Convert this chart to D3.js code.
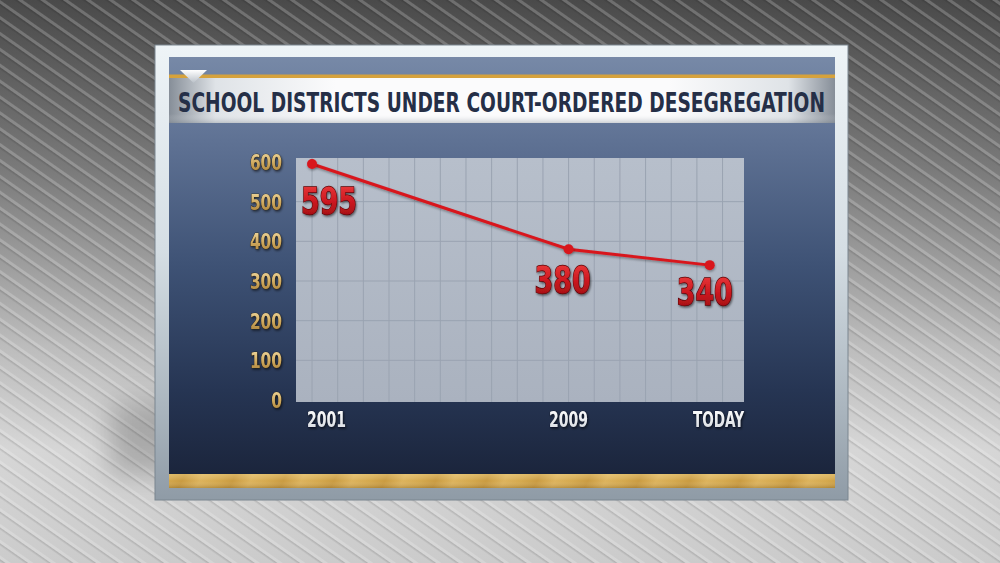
<!DOCTYPE html>
<html><head><meta charset="utf-8">
<script src="https://cdn.jsdelivr.net/npm/d3@7"></script>
<style>html,body{margin:0;padding:0;overflow:hidden;background:#888}</style>
</head><body>
<script>
// ---------- data ----------
const title = "SCHOOL DISTRICTS UNDER COURT-ORDERED DESEGREGATION";
const categories = ["2001", "2009", "TODAY"];
const yearPositions = [2001, 2009, 2013.4]; // "TODAY" placed on the timeline (estimated)
const values = [595, 380, 340];
const yTicks = [0, 100, 200, 300, 400, 500, 600];
const yGridValues = [100, 200, 300, 400, 500];

// ---------- layout ----------
const W = 1000, H = 563;
const plot = {left: 296, right: 744, top: 158, bottom: 402};
const labelDx = [17, -6, -5], labelDy = [50, 44, 40];
const FONT = "'Liberation Sans Narrow','DejaVu Sans Condensed','Liberation Sans',Arial,sans-serif";

const svg = d3.select("body").append("svg").attr("width", W).attr("height", H);
const defs = svg.append("defs");

function linGrad(id, stops, x2 = 0, y2 = 1) {
  const g = defs.append("linearGradient").attr("id", id)
    .attr("x1", 0).attr("y1", 0).attr("x2", x2).attr("y2", y2);
  stops.forEach(([o, c]) => g.append("stop").attr("offset", o).attr("stop-color", c));
  return g;
}
linGrad("bgGrad", [[0, "#4a4a4a"], [0.3, "#7a7a7a"], [0.62, "#bdbdbd"], [0.8, "#d6d6d6"], [1, "#cbcbcb"]]);
linGrad("frameGrad", [[0, "#eef4f7"], [0.45, "#d5dee4"], [0.8, "#aab5be"], [1, "#8f9ba6"]]);
linGrad("panelGrad", [[0, "#7789a7"], [0.2, "#5f7294"], [0.5, "#3e5275"], [0.8, "#263553"], [1, "#1b253c"]]);
linGrad("bandGrad", [[0, "#868e98"], [0.07, "#dfe3e7"], [0.25, "#fbfbfc"], [0.75, "#fbfbfc"], [0.93, "#dfe3e7"], [1, "#868e98"]], 1, 0);
linGrad("bandV", [[0, "rgba(255,255,255,0)"], [0.8, "rgba(255,255,255,0)"], [1, "rgba(120,130,140,0.35)"]]);
linGrad("plotGrad", [[0, "#b7bfcb"], [1, "#aab2bf"]]);
linGrad("redGrad", [[0, "#f04040"], [0.5, "#cc1820"], [1, "#930b10"]]);
linGrad("goldText", [[0, "#f3dca3"], [0.5, "#cfa95e"], [1, "#a47a33"]]);
linGrad("whiteText", [[0, "#ffffff"], [1, "#d5d9df"]]);
linGrad("triGrad", [[0, "#ffffff"], [1, "#b9c0c8"]]);

// stripes pattern for background
const pat = defs.append("pattern").attr("id", "stripes").attr("patternUnits", "userSpaceOnUse")
  .attr("width", 40).attr("height", 13).attr("patternTransform", "rotate(35)");
pat.append("rect").attr("x", 0).attr("y", 0).attr("width", 40).attr("height", 3).attr("fill", "rgba(255,255,255,0.2)");
pat.append("rect").attr("x", 0).attr("y", 3).attr("width", 40).attr("height", 1.5).attr("fill", "rgba(0,0,0,0.12)");

// gold bar pattern (soft diagonal bands)
const gb = defs.append("linearGradient").attr("id", "goldBands").attr("gradientUnits", "userSpaceOnUse")
  .attr("x1", 0).attr("y1", 0).attr("x2", 46).attr("y2", 0).attr("spreadMethod", "repeat")
  .attr("gradientTransform", "rotate(25)");
[[0, "#c99a3f"], [0.35, "#dcb25a"], [0.7, "#d4a84c"], [1, "#c99a3f"]]
  .forEach(([o, c]) => gb.append("stop").attr("offset", o).attr("stop-color", c));
linGrad("goldShade", [[0, "rgba(255,235,170,0.3)"], [0.5, "rgba(255,255,255,0)"], [1, "rgba(90,60,10,0.25)"]]);

// filters
const blur = defs.append("filter").attr("id", "soft").attr("x", "-50%").attr("y", "-50%").attr("width", "200%").attr("height", "200%");
blur.append("feGaussianBlur").attr("stdDeviation", 14);
function shadowFilter(id, dx, dy, sd, op) {
  const f = defs.append("filter").attr("id", id).attr("x", "-20%").attr("y", "-20%").attr("width", "140%").attr("height", "160%");
  f.append("feDropShadow").attr("dx", dx).attr("dy", dy).attr("stdDeviation", sd)
    .attr("flood-color", "#000").attr("flood-opacity", op);
}
shadowFilter("txtShadow", 1, 1.5, 0.8, 0.55);
shadowFilter("lineShadow", 0.5, 1.5, 1, 0.35);

// ---------- background ----------
svg.append("rect").attr("width", W).attr("height", H).attr("fill", "url(#bgGrad)");
svg.append("rect").attr("width", W).attr("height", H).attr("fill", "url(#stripes)");
// shadow of the frame
svg.append("rect").attr("x", 110).attr("y", 405).attr("width", 80).attr("height", 70)
  .attr("fill", "rgba(0,0,0,0.2)").attr("filter", "url(#soft)");

// ---------- frame & panel ----------
svg.append("rect").attr("x", 155).attr("y", 45).attr("width", 693).attr("height", 455)
  .attr("fill", "url(#frameGrad)").attr("stroke", "#7a8690").attr("stroke-width", 1);
svg.append("rect").attr("x", 169).attr("y", 57).attr("width", 666).attr("height", 417)
  .attr("fill", "url(#panelGrad)");
svg.append("rect").attr("x", 169).attr("y", 474).attr("width", 666).attr("height", 14)
  .attr("fill", "url(#goldBands)");
svg.append("rect").attr("x", 169).attr("y", 474).attr("width", 666).attr("height", 14)
  .attr("fill", "url(#goldShade)");

// title band
svg.append("rect").attr("x", 169).attr("y", 74.5).attr("width", 666).attr("height", 3.5).attr("fill", "#d6a23c");
svg.append("rect").attr("x", 169).attr("y", 78).attr("width", 666).attr("height", 45).attr("fill", "url(#bandGrad)");
svg.append("rect").attr("x", 169).attr("y", 78).attr("width", 666).attr("height", 45).attr("fill", "url(#bandV)");
svg.append("path").attr("d", "M180,70 L207,70 L193.5,83 Z").attr("fill", "url(#triGrad)");
svg.append("text").attr("x", 178).attr("y", 112).text(title)
  .attr("font-family", FONT).attr("font-weight", "bold").attr("font-size", 26)
  .attr("fill", "#252f47").attr("textLength", 647).attr("lengthAdjust", "spacingAndGlyphs");

// ---------- chart ----------
const x = d3.scaleLinear().domain([2000.5, 2014.5]).range([plot.left, plot.left + 449]);
const y = d3.scaleLinear().domain([0, 600]).range([400, 162]);

svg.append("rect").attr("x", plot.left).attr("y", plot.top)
  .attr("width", plot.right - plot.left).attr("height", plot.bottom - plot.top)
  .attr("fill", "url(#plotGrad)");

const grid = svg.append("g").attr("stroke", "#9aa3b1").attr("stroke-width", 1);
grid.selectAll("line.v").data(d3.range(0, 17).map(k => 2001 + 0.8 * k)).join("line")
  .attr("x1", d => x(d)).attr("x2", d => x(d)).attr("y1", plot.top).attr("y2", plot.bottom);
grid.selectAll("line.h").data(yGridValues).join("line").attr("class", "h")
  .attr("x1", plot.left).attr("x2", plot.right).attr("y1", d => y(d)).attr("y2", d => y(d));

// y axis labels
const yAxis = d3.axisLeft(y).tickValues(yTicks).tickSize(0).tickPadding(0);
const yg = svg.append("g").attr("transform", "translate(282,0)").call(yAxis);
yg.select(".domain").remove();
yg.selectAll("text")
  .attr("font-family", FONT).attr("font-weight", "bold").attr("font-size", 21)
  .attr("dy", "0.36em").attr("x", 0)
  .attr("fill", "url(#goldText)").attr("stroke", "#2b1e08").attr("stroke-width", 0.7)
  .attr("paint-order", "stroke").attr("filter", "url(#txtShadow)")
  .attr("textLength", d => String(d).length * 10.7).attr("lengthAdjust", "spacingAndGlyphs");

// x axis labels
const xg = svg.append("g");
const xAnchor = ["start", "middle", "end"];
const xLabelX = [x(yearPositions[0]) - 5, x(yearPositions[1]), plot.right];
xg.selectAll("text").data(categories).join("text")
  .attr("x", (d, i) => xLabelX[i]).attr("y", 427)
  .attr("text-anchor", (d, i) => xAnchor[i])
  .text(d => d)
  .attr("font-family", FONT).attr("font-weight", "bold").attr("font-size", 21)
  .attr("fill", "url(#whiteText)").attr("stroke", "#0d1424").attr("stroke-width", 0.6)
  .attr("paint-order", "stroke").attr("filter", "url(#txtShadow)")
  .attr("textLength", d => d.length === 5 ? 51 : 39).attr("lengthAdjust", "spacingAndGlyphs");

// line
const pts = values.map((v, i) => [x(yearPositions[i]), y(v)]);
svg.append("path").attr("d", d3.line()(pts)).attr("fill", "none")
  .attr("stroke", "#d8161d").attr("stroke-width", 3).attr("filter", "url(#lineShadow)");
svg.selectAll("circle.pt").data(pts).join("circle").attr("class", "pt")
  .attr("cx", d => d[0]).attr("cy", d => d[1]).attr("r", 5)
  .attr("fill", "#d8161d").attr("filter", "url(#lineShadow)");

// value labels
svg.selectAll("text.val").data(values).join("text").attr("class", "val")
  .attr("x", (d, i) => x(yearPositions[i]) + labelDx[i])
  .attr("y", (d, i) => y(d) + labelDy[i])
  .attr("text-anchor", "middle").text(d => d)
  .attr("font-family", FONT).attr("font-weight", "bold").attr("font-size", 37)
  .attr("fill", "url(#redGrad)").attr("stroke", "#5e0508").attr("stroke-width", 1.4)
  .attr("paint-order", "stroke").attr("filter", "url(#txtShadow)")
  .attr("textLength", 56).attr("lengthAdjust", "spacingAndGlyphs");
</script>
</body></html>
